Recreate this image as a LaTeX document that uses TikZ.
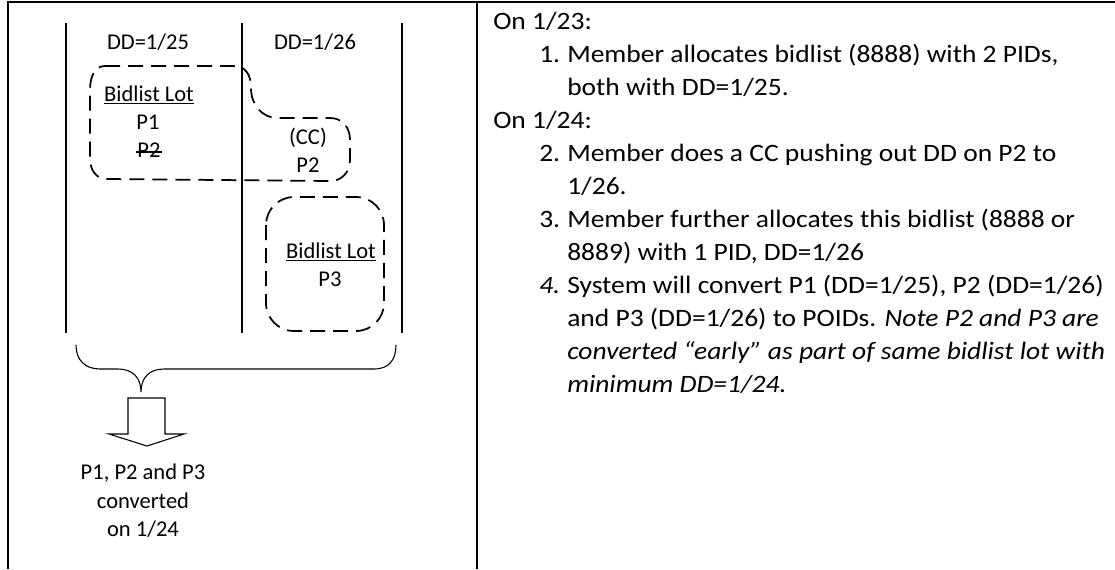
\documentclass[tikz,border=0pt]{standalone}
\usepackage{fontspec}
\setmainfont{Carlito}
\newfontfamily\rfont[FakeStretch=1.1]{Carlito}
\begin{document}
\begin{tikzpicture}[x=0.75pt,y=-0.75pt,
  frame/.style={line width=1.5pt},
  col/.style={line width=1.2pt},
  blob/.style={line width=1.3pt, dash pattern=on 11.25pt off 6pt},
  thinline/.style={line width=0.8pt},
  ltxt/.style={font=\fontsize{16.9}{20}\selectfont, inner sep=0pt, anchor=base},
  rtxt/.style={font=\rfont\fontsize{18.75}{22}\selectfont, inner sep=0pt, anchor=base west},
]
\useasboundingbox (0,0) rectangle (1115,569);
% table frame
\draw[frame] (8,569) -- (8,2) -- (1115,2);
\draw[frame] (477,2) -- (477,569);
% columns
\draw[col] (66,23) -- (66,333);
\draw[col] (242,23) -- (242,333);
\draw[col] (402,23) -- (402,333);
% column headings
\node[ltxt] (dd25) at (148,49) {DD=1/25};
\node[ltxt] (dd26) at (315,49) {DD=1/26};
% first bidlist lot blob
\draw[blob] (105,66) -- (233,66) .. controls (246,66) and (251,75) .. (251,88)
  .. controls (251,105) and (262,118) .. (278,118) -- (330,118)
  .. controls (343,118) and (350,128) .. (350,140) -- (350,160)
  .. controls (350,172) and (342,181) .. (330,181) -- (107,179)
  .. controls (96,179) and (90,170) .. (90,158) -- (90,90)
  .. controls (90,76) and (95,66) .. (105,66) -- cycle;
\node[ltxt] (lot1) at (149,101) {\underline{Bidlist Lot}};
\node[ltxt] (p1) at (148,129) {P1};
\node[ltxt] (p2old) at (149,157) {P2};
\draw[line width=0.8pt] ([xshift=-1pt,yshift=3.75pt]p2old.base west) -- ([xshift=1pt,yshift=3.75pt]p2old.base east);
\node[ltxt] (cc) at (308,144) {(CC)};
\node[ltxt] (p2) at (308,172) {P2};
% second bidlist lot
\draw[blob, rounded corners=21pt] (266,197) rectangle (384,331);
\node[ltxt] (lot2) at (331,258) {\underline{Bidlist Lot}};
\node[ltxt] (p3) at (330,286) {P3};
% brace
\draw[thinline] (76,345) .. controls (76,360) and (85,369) .. (100,369) -- (118,369)
  .. controls (133,369) and (141,378) .. (141,392)
  .. controls (141,378) and (149,369) .. (164,369) -- (374,369)
  .. controls (389,369) and (396,360) .. (396,345);
% block arrow
\draw[thinline] (128,398) -- (165,398) -- (165,434) -- (184,434) -- (147,446)
  -- (109,434) -- (128,434) -- cycle;
\node[ltxt] (res1) at (143,479) {P1, P2 and P3};
\node[ltxt] (res2) at (143,508) {converted};
\node[ltxt] (res3) at (143,536) {on 1/24};
% right column text
\node[rtxt] (r0) at (493,29) {On 1/23:};
\node[rtxt] (n1) at (539,62) {1.};
\node[rtxt] (r1) at (567,62) {Member allocates bidlist (8888) with 2 PIDs,};
\node[rtxt] (r2) at (567,95) {both with DD=1/25.};
\node[rtxt] (r3) at (493,128) {On 1/24:};
\node[rtxt] (n2) at (539,161) {2.};
\node[rtxt] (r4) at (567,161) {Member does a CC pushing out DD on P2 to};
\node[rtxt] (r5) at (567,194) {1/26.};
\node[rtxt] (n3) at (539,227) {3.};
\node[rtxt] (r6) at (567,227) {Member further allocates this bidlist (8888 or};
\node[rtxt] (r7) at (567,260) {8889) with 1 PID, DD=1/26};
\node[rtxt] (n4) at (539,293) {\textit{4.}};
\node[rtxt] (r8) at (567,293) {System will convert P1 (DD=1/25), P2 (DD=1/26)};
\node[rtxt] (r9) at (567,326) {and P3 (DD=1/26) to POIDs. \textit{Note P2 and P3 are}};
\node[rtxt] (r10) at (567,359) {\textit{converted “early” as part of same bidlist lot with}};
\node[rtxt] (r11) at (567,392) {\textit{minimum DD=1/24.}};
\end{tikzpicture}
\end{document}
